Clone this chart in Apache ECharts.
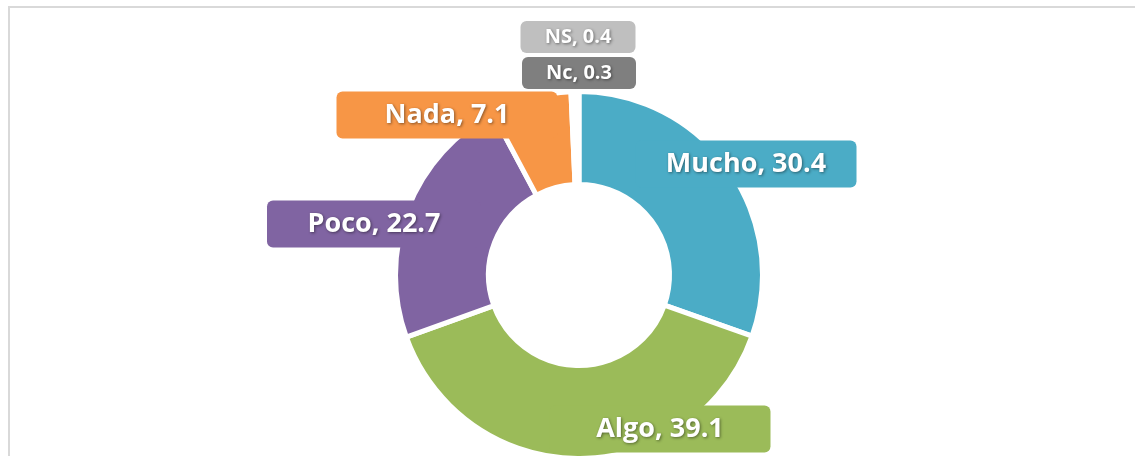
<!DOCTYPE html>
<html>
<head>
<meta charset="utf-8">
<script src="https://cdn.jsdelivr.net/npm/echarts@6/dist/echarts.min.js"></script>
<style>
  html, body { margin: 0; padding: 0; background: #fff; }
  #donut { width: 1135px; height: 456px; }
</style>
</head>
<body>
<div id="donut"></div>
<script>
// valores del gráfico (%)
const categories = ['Mucho', 'Algo', 'Poco', 'Nada', 'Nc', 'NS']
const values = [30.4, 39.1, 22.7, 7.1, 0.3, 0.4]
const colors = ['#4bacc6', '#9bbb59', '#8064a2', '#f79646', '#7f7f7f', '#bfbfbf']

// posición de cada etiqueta (centro de la caja) y su tamaño
const labelPos = [[746, 164], [660, 429], [374, 224], [447, 115], [579, 73], [578, 37]]
const labelBox = [[221, 47], [221, 47], [214, 47], [221, 47], [114, 32], [115, 32]]
const labelFont = [27, 27, 27, 27, 20, 20]

const chart = echarts.init(document.getElementById('donut'))

const pieData = categories.map((name, i) => ({
  name: name,
  value: values[i],
  itemStyle: { color: colors[i] },
  label: {
    backgroundColor: colors[i],
    width: labelBox[i][0],
    height: labelBox[i][1],
    lineHeight: labelBox[i][1],
    fontSize: labelFont[i]
  }
}))

chart.setOption({
  animation: false,
  graphic: [
    {
      type: 'rect',
      shape: { x: 9, y: 7, width: 1300, height: 600 },
      style: { fill: 'none', stroke: '#d9d9d9', lineWidth: 2 },
      silent: true,
      z: 0
    }
  ],
  series: [
    {
      type: 'pie',
      center: [579, 275],
      radius: [90.5, 183.5],
      startAngle: 90,
      clockwise: true,
      avoidLabelOverlap: false,
      emphasis: { disabled: true },
      itemStyle: {
        borderColor: '#ffffff',
        borderWidth: 5
      },
      label: {
        show: true,
        position: 'outside',
        formatter: (p) => `${p.name}, ${p.value}`,
        color: '#ffffff',
        fontFamily: 'Open Sans',
        fontWeight: 'bold',
        align: 'center',
        verticalAlign: 'middle',
        borderRadius: 6,
        padding: 0,
        textShadowColor: 'rgba(0,0,0,0.45)',
        textShadowBlur: 3,
        textShadowOffsetX: 1,
        textShadowOffsetY: 1.5
      },
      labelLine: { show: false },
      labelLayout: (params) => ({
        x: labelPos[params.dataIndex][0],
        y: labelPos[params.dataIndex][1],
        align: 'center',
        verticalAlign: 'middle',
        hideOverlap: false
      }),
      data: pieData
    }
  ]
})
</script>
</body>
</html>
